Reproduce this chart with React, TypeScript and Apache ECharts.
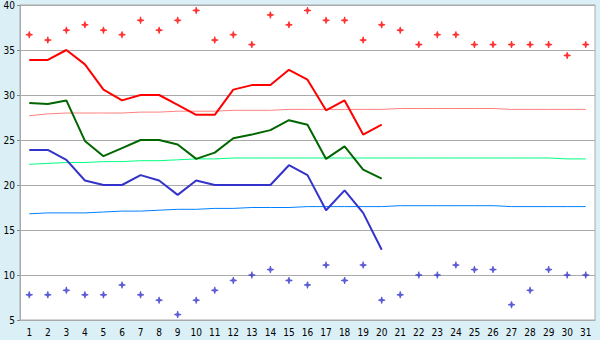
import React, { useEffect, useRef } from "react";
import * as echarts from "echarts";

const days = Array.from({ length: 31 }, (_, i) => String(i + 1));

const recordHigh = [36.7, 36.1, 37.2, 37.8, 37.2, 36.7, 38.3, 37.2, 38.3, 39.4, 36.1, 36.7, 35.6, 38.9, 37.8, 39.4, 38.3, 38.3, 36.1, 37.8, 37.2, 35.6, 36.7, 36.7, 35.6, 35.6, 35.6, 35.6, 35.6, 34.4, 35.6];
const recordLow = [7.8, 7.8, 8.3, 7.8, 7.8, 8.9, 7.8, 7.2, 5.6, 7.2, 8.3, 9.4, 10.0, 10.6, 9.4, 8.9, 11.1, 9.4, 11.1, 7.2, 7.8, 10.0, 10.0, 11.1, 10.6, 10.6, 6.7, 8.3, 10.6, 10.0, 10.0];

const actualHigh = [33.9, 33.9, 35.0, 33.4, 30.6, 29.4, 30.0, 30.0, 28.9, 27.8, 27.8, 30.6, 31.1, 31.1, 32.8, 31.7, 28.3, 29.4, 25.6, 26.7];
const actualMean = [29.1, 29.0, 29.4, 24.9, 23.2, 24.1, 25.0, 25.0, 24.5, 22.9, 23.6, 25.2, 25.6, 26.1, 27.2, 26.7, 22.9, 24.3, 21.7, 20.7];
const actualLow = [23.9, 23.9, 22.8, 20.5, 20.0, 20.0, 21.1, 20.5, 18.9, 20.5, 20.0, 20.0, 20.0, 20.0, 22.2, 21.1, 17.2, 19.4, 16.9, 12.8];

const normalHigh = [27.7, 27.9, 28.0, 28.0, 28.0, 28.0, 28.1, 28.1, 28.2, 28.2, 28.2, 28.3, 28.3, 28.3, 28.4, 28.4, 28.4, 28.4, 28.4, 28.4, 28.5, 28.5, 28.5, 28.5, 28.5, 28.5, 28.4, 28.4, 28.4, 28.4, 28.4];
const normalMean = [22.3, 22.4, 22.5, 22.5, 22.6, 22.6, 22.7, 22.7, 22.8, 22.9, 22.9, 23.0, 23.0, 23.0, 23.0, 23.0, 23.0, 23.0, 23.0, 23.0, 23.0, 23.0, 23.0, 23.0, 23.0, 23.0, 23.0, 23.0, 23.0, 22.9, 22.9];
const normalLow = [16.8, 16.9, 16.9, 16.9, 17.0, 17.1, 17.1, 17.2, 17.3, 17.3, 17.4, 17.4, 17.5, 17.5, 17.5, 17.6, 17.6, 17.6, 17.6, 17.6, 17.7, 17.7, 17.7, 17.7, 17.7, 17.7, 17.6, 17.6, 17.6, 17.6, 17.6];

const yTicks = { min: 5, max: 40, interval: 5 };

const star = "path://M3,0 L4,0 L4.6,2.4 L7,3 L7,4 L4.6,4.6 L4,7 L3,7 L2.4,4.6 L0,4 L0,3 L2.4,2.4 Z";
const font = "'DejaVu Sans Condensed', 'DejaVu Sans', sans-serif";

export default function App() {
  const ref = useRef<HTMLDivElement>(null);
  useEffect(() => {
    if (!ref.current) return;
    const chart = echarts.init(ref.current, null, { renderer: "svg" });
    const lineSeries = (name: string, data: number[], color: string, width: number, z: number) => ({
      name,
      type: "line",
      data,
      showSymbol: false,
      symbol: "none",
      z,
      lineStyle: { color, width },
      itemStyle: { color },
    });
    chart.setOption({
      animation: false,
      backgroundColor: "#daf0f6",
      grid: {
        left: 20,
        right: 5,
        top: 5,
        bottom: 20,
        show: true,
        backgroundColor: "#ffffff",
        borderColor: "#aaaaaa",
        borderWidth: 1,
      },
      xAxis: {
        type: "category",
        data: days,
        boundaryGap: true,
        axisLine: { lineStyle: { color: "#aaaaaa" } },
        axisTick: { alignWithLabel: true, length: 5, lineStyle: { color: "#000000" } },
        axisLabel: { color: "#000", fontSize: 10, fontFamily: font, margin: 7, interval: 0 },
        splitLine: { show: false },
      },
      yAxis: {
        type: "value",
        min: yTicks.min,
        max: yTicks.max,
        interval: yTicks.interval,
        axisLine: { show: true, lineStyle: { color: "#aaaaaa" } },
        axisTick: { show: true, length: 3, lineStyle: { color: "#888888" } },
        axisLabel: { color: "#000", fontSize: 10, fontFamily: font, margin: 5 },
        splitLine: { lineStyle: { color: "#aaaaaa", width: 1 } },
      },
      series: [
        lineSeries("normalHigh", normalHigh, "#ff8080", 1, 1),
        lineSeries("normalMean", normalMean, "#00ff80", 1, 1),
        lineSeries("normalLow", normalLow, "#0080ff", 1, 1),
        lineSeries("actualHigh", actualHigh, "#ff0000", 2, 2),
        lineSeries("actualMean", actualMean, "#006600", 2, 2),
        lineSeries("actualLow", actualLow, "#3333cc", 2, 2),
        {
          name: "recordHigh",
          type: "scatter",
          data: recordHigh,
          symbol: star,
          symbolSize: 7,
          itemStyle: { color: "#ff0000" },
          z: 3,
        },
        {
          name: "recordLow",
          type: "scatter",
          data: recordLow,
          symbol: star,
          symbolSize: 7,
          itemStyle: { color: "#3333cc" },
          z: 3,
        },
      ],
    });
    return () => chart.dispose();
  }, []);
  return (
    <div
      ref={ref}
      style={{ position: "fixed", left: 0, top: 0, width: 600, height: 340 }}
    />
  );
}
